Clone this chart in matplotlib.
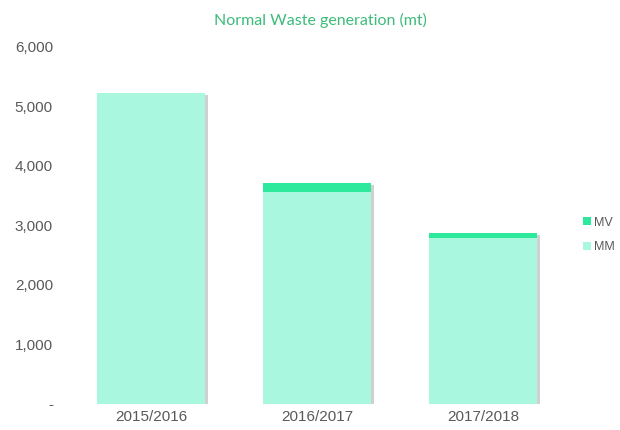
import numpy as np
import matplotlib.pyplot as plt
import matplotlib.patheffects as pe
from matplotlib.ticker import FuncFormatter

years = ['2015/2016', '2016/2017', '2017/2018']
mm = [5220, 3560, 2790]
mv = [0, 150, 80]

MM_COLOR = '#a9f7de'
MV_COLOR = '#2ee89c'
TEXT_GREY = '#595959'

plt.rcParams['font.family'] = ['Liberation Sans', 'DejaVu Sans']

fig = plt.figure(figsize=(6.2, 4.3), dpi=100)
ax = fig.add_axes([0.11, 0.0605, 0.803, 0.8302])

x = np.arange(len(years))
total = np.add(mm, mv)

# soft drop shadow behind each full stack
shadow = [pe.SimplePatchShadow(offset=(2, -1), shadow_rgbFace='#666666', alpha=0.3), pe.Normal()]
back = ax.bar(x, total, width=0.65, color=MM_COLOR, zorder=1)
for bar in back:
	bar.set_path_effects(shadow)

b1 = ax.bar(x, mm, width=0.65, color=MM_COLOR, label='MM', zorder=2)
b2 = ax.bar(x, mv, width=0.65, bottom=mm, color=MV_COLOR, label='MV', zorder=2)

ax.set_xlim(-0.5, 2.5)
ax.set_ylim(0, 6000)
ax.set_yticks(np.arange(0, 6001, 1000))
ax.yaxis.set_major_formatter(FuncFormatter(lambda v, p: '-' if v == 0 else f'{int(v):,}'))
ax.set_xticks(x)
ax.set_xticklabels(years)
ax.tick_params(axis='both', length=0, labelsize=11, labelcolor=TEXT_GREY)
ax.tick_params(axis='y', pad=11)
ax.tick_params(axis='x', pad=4)
for s in ax.spines.values():
	s.set_visible(False)

fig.text(320 / 620, 1 - 20 / 430, 'Normal Waste generation (mt)', ha='center', va='center',
		 fontsize=11.5, color='#3dbb7a', family=['Lato', 'DejaVu Sans'])

# legend: MV above MM
leg = fig.legend([b2, b1], ['MV', 'MM'], loc='center left', bbox_to_anchor=(583 / 620, 1 - 235 / 430),
				 frameon=False, fontsize=9, handlelength=0.6, handleheight=0.6, handletextpad=0.3,
				 labelspacing=1.0, borderpad=0, borderaxespad=0)
for t in leg.get_texts():
	t.set_color(TEXT_GREY)

fig.savefig('out.png', dpi=100)
